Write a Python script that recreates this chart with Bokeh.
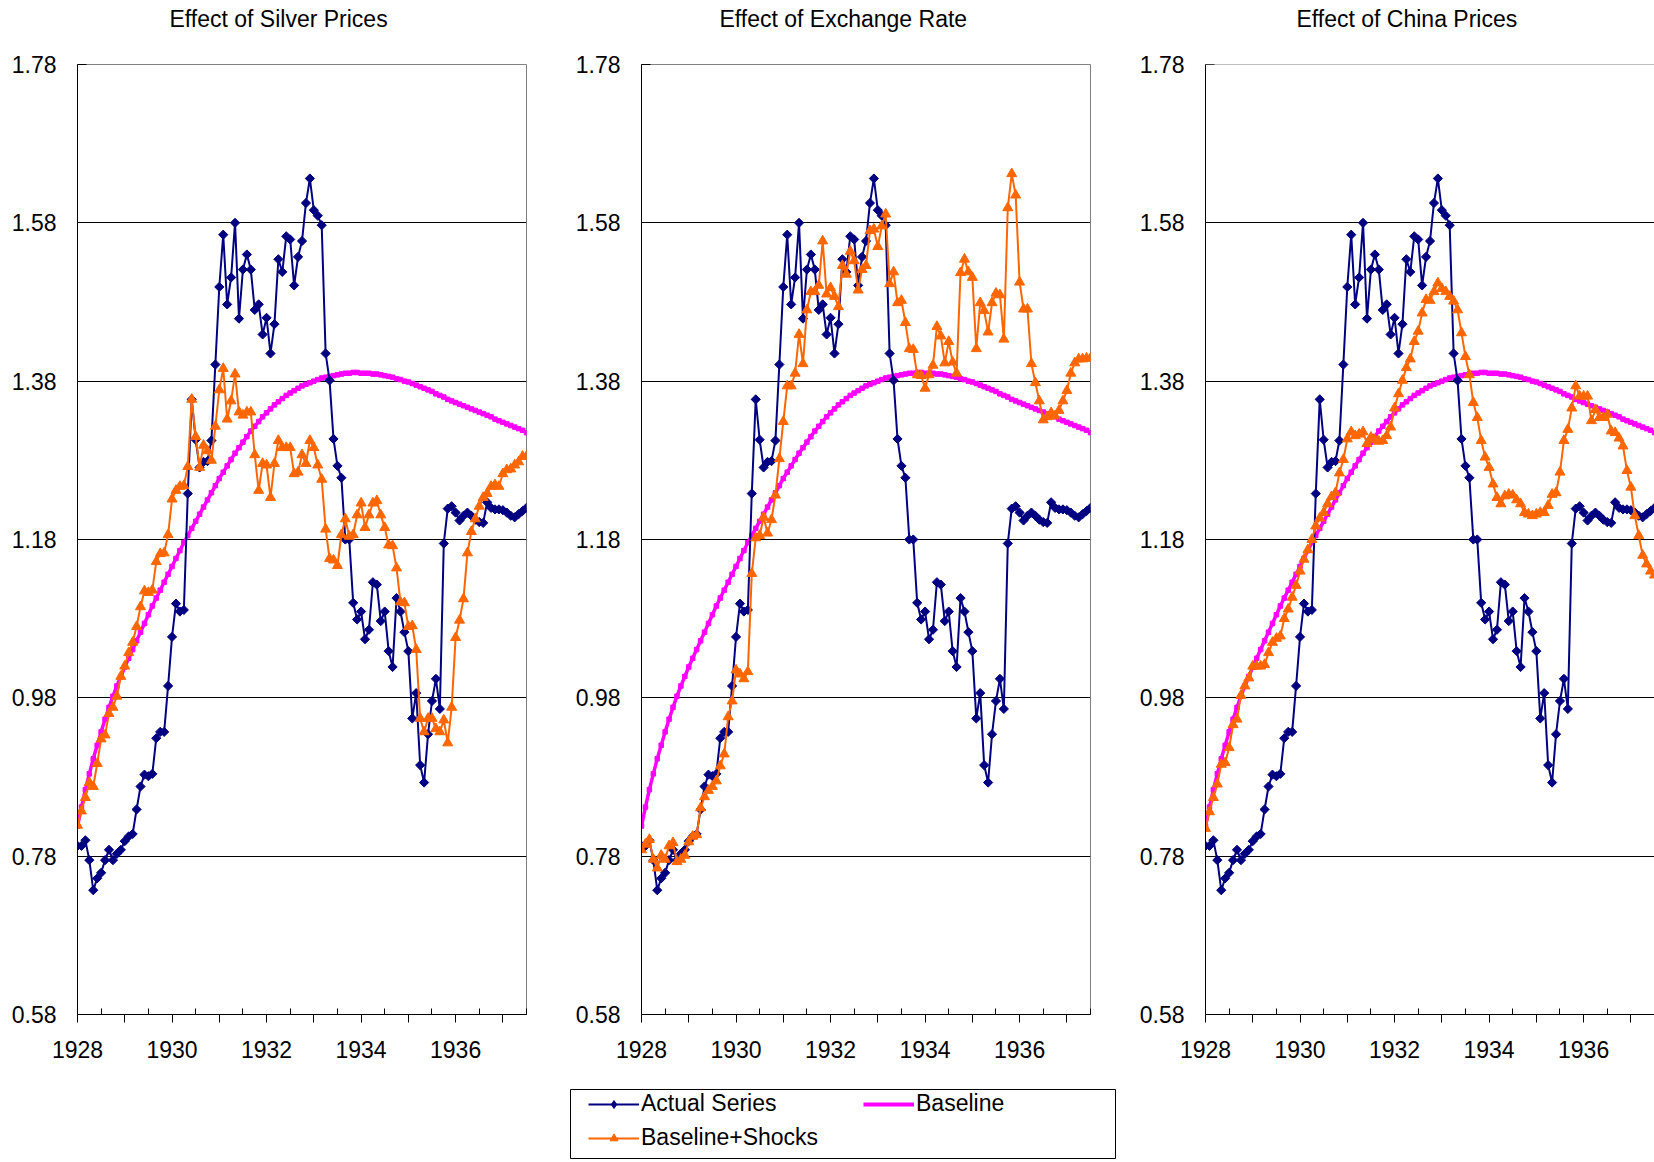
import math
from bokeh.plotting import figure
from bokeh.models import (Range1d, FixedTicker, Label, Span, Legend, LegendItem,
                          Spacer, ColumnDataSource)
from bokeh.layouts import row, column
from bokeh.embed import file_html
from bokeh.resources import INLINE

# ---------------- data (monthly, Jan 1928 .. Jul 1937) ----------------
start_year = 1928
month_index = list(range(115))

actual_series = [
    0.793, 0.793, 0.800, 0.775, 0.737, 0.752, 0.759, 0.775, 0.788, 0.775,
    0.783, 0.788, 0.799, 0.805, 0.808, 0.839, 0.868, 0.883, 0.881, 0.884,
    0.929, 0.937, 0.937, 0.995, 1.057, 1.099, 1.089, 1.091, 1.238, 1.357,
    1.306, 1.271, 1.278, 1.279, 1.305, 1.401, 1.499, 1.565, 1.477, 1.511,
    1.580, 1.459, 1.521, 1.540, 1.521, 1.470, 1.477, 1.439, 1.460, 1.415,
    1.452, 1.534, 1.518, 1.563, 1.559, 1.501, 1.537, 1.557, 1.605, 1.636,
    1.596, 1.589, 1.577, 1.415, 1.381, 1.307, 1.273, 1.258, 1.180, 1.180,
    1.100, 1.079, 1.089, 1.054, 1.066, 1.126, 1.123, 1.077, 1.089, 1.039,
    1.019, 1.106, 1.089, 1.063, 1.039, 0.954, 0.986, 0.895, 0.873, 0.934,
    0.976, 1.004, 0.966, 1.175, 1.219, 1.222, 1.214, 1.204, 1.210, 1.214,
    1.210, 1.205, 1.202, 1.201, 1.227, 1.220, 1.218, 1.218, 1.217, 1.214,
    1.210, 1.208, 1.212, 1.216, 1.220]

baseline = [
    0.818, 0.842, 0.864, 0.884, 0.903, 0.920, 0.937, 0.953, 0.968, 0.982,
    0.995, 1.007, 1.019, 1.030, 1.041, 1.052, 1.063, 1.074, 1.085, 1.096,
    1.106, 1.116, 1.126, 1.136, 1.146, 1.156, 1.166, 1.176, 1.185, 1.194,
    1.203, 1.212, 1.221, 1.230, 1.239, 1.248, 1.257, 1.265, 1.273, 1.281,
    1.289, 1.296, 1.303, 1.310, 1.317, 1.323, 1.329, 1.335, 1.340, 1.345,
    1.350, 1.354, 1.358, 1.362, 1.365, 1.368, 1.371, 1.374, 1.376, 1.378,
    1.380, 1.382, 1.384, 1.385, 1.386, 1.387, 1.388, 1.389, 1.390, 1.390,
    1.391, 1.391, 1.390, 1.390, 1.390, 1.389, 1.389, 1.388, 1.387, 1.386,
    1.385, 1.383, 1.382, 1.380, 1.379, 1.377, 1.375, 1.373, 1.371, 1.369,
    1.367, 1.364, 1.362, 1.360, 1.357, 1.355, 1.353, 1.351, 1.349, 1.347,
    1.345, 1.343, 1.341, 1.339, 1.337, 1.335, 1.332, 1.330, 1.328, 1.326,
    1.324, 1.322, 1.320, 1.318, 1.315]

shocks_silver = [
    0.819, 0.837, 0.854, 0.873, 0.868, 0.897, 0.928, 0.933, 0.960, 0.968,
    0.982, 1.007, 1.020, 1.037, 1.050, 1.070, 1.095, 1.115, 1.113, 1.116,
    1.152, 1.162, 1.163, 1.186, 1.231, 1.242, 1.247, 1.248, 1.272, 1.357,
    1.310, 1.271, 1.299, 1.292, 1.280, 1.323, 1.369, 1.396, 1.332, 1.355,
    1.389, 1.341, 1.337, 1.341, 1.341, 1.287, 1.242, 1.276, 1.274, 1.233,
    1.276, 1.305, 1.296, 1.296, 1.296, 1.263, 1.265, 1.287, 1.276, 1.305,
    1.296, 1.274, 1.256, 1.193, 1.156, 1.154, 1.147, 1.186, 1.206, 1.184,
    1.186, 1.211, 1.226, 1.195, 1.211, 1.226, 1.229, 1.211, 1.195, 1.173,
    1.172, 1.144, 1.101, 1.100, 1.070, 1.071, 1.041, 0.954, 0.937, 0.954,
    0.954, 0.941, 0.937, 0.952, 0.923, 0.968, 1.056, 1.078, 1.105, 1.163,
    1.190, 1.206, 1.222, 1.233, 1.238, 1.247, 1.249, 1.247, 1.263, 1.268,
    1.269, 1.274, 1.278, 1.285, 1.285]

shocks_exchange = [
    0.788, 0.795, 0.801, 0.776, 0.765, 0.781, 0.776, 0.793, 0.797, 0.773,
    0.776, 0.781, 0.798, 0.805, 0.807, 0.841, 0.855, 0.863, 0.868, 0.875,
    0.894, 0.909, 0.956, 0.976, 1.015, 1.010, 1.004, 1.013, 1.137, 1.182,
    1.185, 1.208, 1.188, 1.205, 1.236, 1.282, 1.329, 1.374, 1.374, 1.390,
    1.439, 1.402, 1.470, 1.493, 1.493, 1.501, 1.557, 1.490, 1.498, 1.487,
    1.474, 1.526, 1.515, 1.544, 1.532, 1.495, 1.521, 1.526, 1.570, 1.572,
    1.550, 1.576, 1.591, 1.503, 1.518, 1.479, 1.482, 1.454, 1.421, 1.420,
    1.388, 1.387, 1.371, 1.388, 1.400, 1.449, 1.437, 1.403, 1.430, 1.404,
    1.390, 1.517, 1.534, 1.518, 1.511, 1.421, 1.479, 1.469, 1.442, 1.479,
    1.491, 1.489, 1.433, 1.599, 1.642, 1.615, 1.505, 1.471, 1.471, 1.402,
    1.378, 1.355, 1.331, 1.335, 1.340, 1.336, 1.343, 1.355, 1.368, 1.390,
    1.403, 1.408, 1.408, 1.409, 1.409]

shocks_china = [
    0.815, 0.836, 0.854, 0.871, 0.896, 0.898, 0.917, 0.946, 0.953, 0.983,
    0.995, 1.005, 1.020, 1.020, 1.020, 1.022, 1.037, 1.050, 1.055, 1.058,
    1.080, 1.092, 1.107, 1.122, 1.140, 1.155, 1.167, 1.180, 1.197, 1.207,
    1.214, 1.225, 1.234, 1.239, 1.264, 1.281, 1.307, 1.316, 1.311, 1.313,
    1.316, 1.301, 1.309, 1.306, 1.304, 1.305, 1.311, 1.322, 1.346, 1.364,
    1.381, 1.397, 1.408, 1.430, 1.443, 1.466, 1.483, 1.482, 1.493, 1.504,
    1.497, 1.493, 1.487, 1.481, 1.470, 1.441, 1.411, 1.388, 1.353, 1.334,
    1.305, 1.284, 1.271, 1.250, 1.233, 1.225, 1.235, 1.237, 1.236, 1.230,
    1.225, 1.214, 1.212, 1.210, 1.212, 1.214, 1.214, 1.223, 1.237, 1.239,
    1.265, 1.305, 1.319, 1.346, 1.374, 1.361, 1.361, 1.361, 1.330, 1.344,
    1.334, 1.334, 1.338, 1.317, 1.315, 1.308, 1.298, 1.267, 1.246, 1.210,
    1.185, 1.160, 1.149, 1.140, 1.135]

panel_titles = ["Effect of Silver Prices", "Effect of Exchange Rate", "Effect of China Prices"]
panel_shocks = [shocks_silver, shocks_exchange, shocks_china]
series_names = ["Actual Series", "Baseline", "Baseline+Shocks"]

x_tick_years = [1928, 1929, 1930, 1931, 1932, 1933, 1934, 1935, 1936, 1937]
x_labelled_years = [1928, 1930, 1932, 1934, 1936]
x_half_years = [1928.5, 1929.5, 1930.5, 1931.5, 1932.5, 1933.5, 1934.5, 1935.5, 1936.5, 1937.5]
y_ticks = [0.58, 0.78, 0.98, 1.18, 1.38, 1.58, 1.78]
y_tick_labels = ["0.58", "0.78", "0.98", "1.18", "1.38", "1.58", "1.78"]

# ---------------- style / layout ----------------
FONT = "Liberation Sans"
NAVY = "#000080"
MAGENTA = "#FF00FF"
ORANGE = "#FF6600"
GRAY = "#808080"

years = [start_year + m / 12.0 for m in month_index]
X_END = 1937.5
FRAME_W = 449
FRAME_H = 950
BORDER_L = 77
PANEL_W = 564
PAGE_W = 1654
TITLE_H = 40
BORDER_TOP = 64 - TITLE_H
BORDER_BOTTOM = 74
title_offsets_px = [92, 78, 91]
TITLE_CENTER_FROM_TOP = 18


def draw_series(p, ys_actual, ys_base, ys_shock):
    src = ColumnDataSource(data=dict(x=years, a=ys_actual, b=ys_base, s=ys_shock))
    p.line("x", "b", source=src, line_color=MAGENTA, line_width=3.5)
    p.scatter("x", "b", source=src, marker="square", size=4.5,
              fill_color=MAGENTA, line_color=MAGENTA)
    p.line("x", "a", source=src, line_color=NAVY, line_width=2)
    p.scatter("x", "a", source=src, marker="square", angle=math.pi / 4, size=6.5,
              fill_color=NAVY, line_color=NAVY)
    p.line("x", "s", source=src, line_color=ORANGE, line_width=2)
    p.scatter("x", "s", source=src, marker="triangle", size=10,
              fill_color=ORANGE, line_color=ORANGE)


# ---------------- title strip ----------------
tf = figure(width=PAGE_W, height=TITLE_H, x_range=Range1d(0, PAGE_W), y_range=Range1d(0, TITLE_H),
            toolbar_location=None, output_backend="svg", min_border=0,
            x_axis_location=None, y_axis_location=None)
tf.grid.visible = False
tf.outline_line_color = None
for k in range(3):
    tf.add_layout(Label(x=k * PANEL_W + BORDER_L + title_offsets_px[k],
                        y=TITLE_H - TITLE_CENTER_FROM_TOP,
                        text=panel_titles[k], text_align="left", text_baseline="middle",
                        text_font=FONT, text_font_size="23px", text_color="black"))

# ---------------- panels ----------------
figs = []
for k in range(3):
    last = (k == 2)
    p = figure(frame_width=FRAME_W, frame_height=FRAME_H,
               x_range=Range1d(start_year, X_END), y_range=Range1d(y_ticks[0], y_ticks[-1]),
               toolbar_location=None, output_backend="svg",
               min_border_left=BORDER_L,
               min_border_right=0 if last else PANEL_W - BORDER_L - FRAME_W,
               min_border_top=BORDER_TOP, min_border_bottom=BORDER_BOTTOM,
               background_fill_color="white", border_fill_color="white")
    p.outline_line_color = None if last else GRAY
    p.outline_line_width = 1

    # y axis
    p.yaxis.ticker = FixedTicker(ticks=y_ticks)
    p.yaxis.major_label_overrides = {t: lab for t, lab in zip(y_ticks, y_tick_labels)}
    p.yaxis.major_tick_in = 9
    p.yaxis.major_tick_out = 0
    p.yaxis.minor_tick_in = 0
    p.yaxis.minor_tick_out = 0
    p.yaxis.major_label_standoff = 21
    # x axis
    p.xaxis.ticker = FixedTicker(ticks=x_tick_years, minor_ticks=x_half_years)
    p.xaxis.major_label_overrides = {y: (str(y) if y in x_labelled_years else "")
                                     for y in x_tick_years}
    p.xaxis.major_tick_in = 0
    p.xaxis.major_tick_out = 8
    p.xaxis.minor_tick_in = 6
    p.xaxis.minor_tick_out = 0
    p.xaxis.major_label_standoff = 18
    for ax in (p.xaxis, p.yaxis):
        ax.axis_line_color = "black"
        ax.axis_line_width = 1
        ax.major_tick_line_color = "black"
        ax.minor_tick_line_color = "black"
        ax.major_label_text_font = FONT
        ax.major_label_text_font_size = "23px"
        ax.major_label_text_color = "black"

    p.xgrid.visible = False
    p.ygrid.ticker = FixedTicker(ticks=y_ticks[1:-1])
    p.ygrid.grid_line_color = "black"
    p.ygrid.grid_line_width = 1

    draw_series(p, actual_series, baseline, panel_shocks[k])

    if last:
        p.add_layout(Span(location=y_ticks[-1], dimension="width",
                          line_color=GRAY, line_width=1))
    figs.append(p)

# ---------------- legend box ----------------
lf = figure(width=547, height=71, x_range=Range1d(0, 1), y_range=Range1d(0, 1),
            toolbar_location=None, output_backend="svg", min_border=1,
            x_axis_location=None, y_axis_location=None)
lf.grid.visible = False
lf.outline_line_color = "black"
lf.outline_line_width = 1
dummy = ColumnDataSource(data=dict(x=[-5], y=[-5]))
ra_l = lf.line("x", "y", source=dummy, line_color=NAVY, line_width=2)
ra_m = lf.scatter("x", "y", source=dummy, marker="diamond", size=11,
                  fill_color=NAVY, line_color=NAVY)
rb_l = lf.line("x", "y", source=dummy, line_color=MAGENTA, line_width=4)
rs_l = lf.line("x", "y", source=dummy, line_color=ORANGE, line_width=2)
rs_m = lf.scatter("x", "y", source=dummy, marker="triangle", size=10,
                  fill_color=ORANGE, line_color=ORANGE)
legend = Legend(items=[LegendItem(label=series_names[0], renderers=[ra_l, ra_m]),
                       LegendItem(label=series_names[1], renderers=[rb_l]),
                       LegendItem(label=series_names[2], renderers=[rs_l, rs_m])],
                location=(18, 7), orientation="horizontal", ncols=2,
                border_line_color=None, background_fill_alpha=0,
                padding=0, margin=0, spacing=7,
                glyph_width=51, glyph_height=20, label_height=20, label_width=215,
                label_standoff=2, label_text_font=FONT, label_text_font_size="23px",
                label_text_color="black")
lf.add_layout(legend)

layout = column(tf, row(*figs), row(Spacer(width=569, height=71), lf))

open("out.html", "w").write(file_html(layout, INLINE))
